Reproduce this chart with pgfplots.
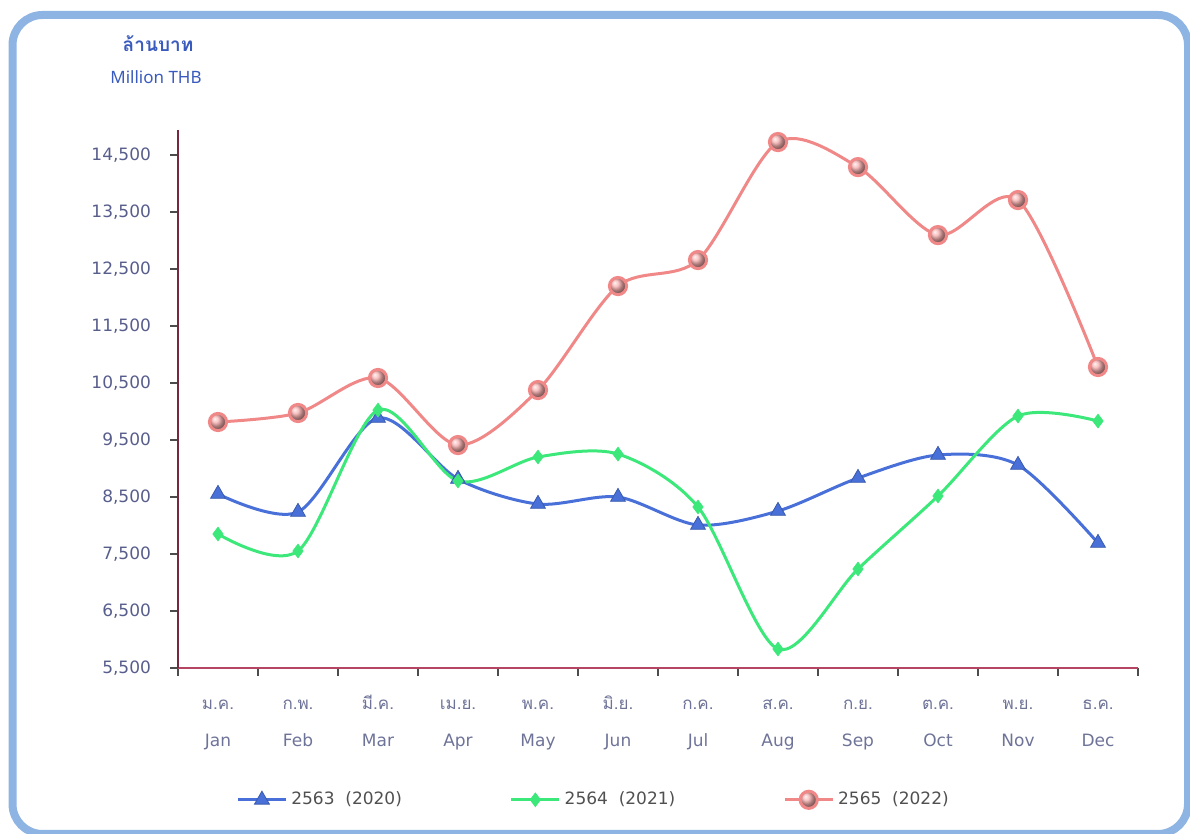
\documentclass[border=0pt]{standalone}
\usepackage{pgfplots}
\pgfplotsset{compat=1.18}
\usepackage{fontspec}
\setmainfont{DejaVu Sans}
\newfontfamily\thai[Script=Thai]{Loma}
\newfontfamily\notosans{Noto Sans}

\definecolor{framecol}{RGB}{141,180,227}
\definecolor{titleblue}{RGB}{58,91,190}
\definecolor{ytickcol}{RGB}{88,94,140}
\definecolor{xtickcol}{RGB}{110,115,152}
\definecolor{yaxcol}{RGB}{120,40,62}
\definecolor{xaxcol}{RGB}{180,70,100}
\definecolor{c2563}{RGB}{72,112,216}
\definecolor{c2564}{RGB}{60,232,122}
\definecolor{c2565}{RGB}{240,136,136}
\definecolor{ballcol}{RGB}{245,172,172}
\definecolor{legtext}{RGB}{80,80,80}

% two-line month label: Thai on top, English below, fixed line heights
\newcommand\ml[2]{\rule{0pt}{8pt}\smash{\thai #1}\\#2}

\begin{document}
\begin{tikzpicture}
\useasboundingbox (0pt,0pt) rectangle (595pt,417pt);
\draw[framecol, line width=4pt, rounded corners=15pt] (6.25pt,0pt) rectangle (594pt,409.5pt);

\node[text=titleblue, font=\thai\bfseries\fontsize{9.5}{11}\selectfont] at (79pt,395pt) {ล้านบาท};
\node[text=titleblue, font=\notosans\fontsize{8.5}{10}\selectfont] at (78pt,378.5pt) {Million THB};

\begin{axis}[
  at={(89pt,83pt)}, anchor=south west,
  scale only axis, width=480pt, height=269pt,
  xmin=-0.5, xmax=11.5, ymin=5500, ymax=14940,
  axis x line*=bottom, axis y line*=left,
  x axis line style={draw=xaxcol, line width=1pt},
  y axis line style={draw=yaxcol, line width=1pt},
  xtick={-0.5,0.5,...,11.5}, xticklabels={},
  ytick={5500,6500,...,14500},
  tick align=outside, major tick length=4pt,
  tick style={draw=black!70, line width=0.8pt},
  scaled y ticks=false,
  /pgf/number format/1000 sep={,},
  /pgf/number format/assume math mode=true,
  yticklabel style={font=\fontsize{8.5}{10}\selectfont, text=ytickcol, xshift=-6pt},
  xticklabel style={align=center, font=\fontsize{8.5}{18.5}\selectfont, text=xtickcol, yshift=-5pt},
  extra x ticks={0,...,11},
  extra x tick labels={\ml{ม.ค.}{Jan},\ml{ก.พ.}{Feb},\ml{มี.ค.}{Mar},\ml{เม.ย.}{Apr},\ml{พ.ค.}{May},\ml{มิ.ย.}{Jun},\ml{ก.ค.}{Jul},\ml{ส.ค.}{Aug},\ml{ก.ย.}{Sep},\ml{ต.ค.}{Oct},\ml{พ.ย.}{Nov},\ml{ธ.ค.}{Dec}},
  extra x tick style={tick style={draw=none}},
  legend columns=3,
  legend style={at={(0.434,-0.245)}, anchor=center, draw=none, fill=none,
    font=\fontsize{8.5}{10}\selectfont, text=legtext,
    /tikz/every even column/.append style={column sep=52pt}},
  legend image code/.code={\draw[mark repeat=2,mark phase=2] plot coordinates {(0cm,0cm) (0.42cm,0cm) (0.84cm,0cm)};},
  every axis plot/.append style={smooth, line width=1.5pt},
]
\addplot[color=c2563, mark=triangle*, mark size=4.3pt, mark options={fill=c2563, draw=c2563!80!black, line width=0.4pt}]
  coordinates {(0,8553) (1,8237) (2,9886) (3,8816) (4,8377) (5,8500) (6,8009) (7,8254) (8,8833) (9,9237) (10,9061) (11,7693)};
\addlegendentry{2563\ \ (2020)}
\addplot[color=c2564, mark=diamond*, mark size=3.4pt, mark options={fill=c2564, draw=c2564, line width=0.4pt}]
  coordinates {(0,7851) (1,7553) (2,10026) (3,8781) (4,9202) (5,9254) (6,8325) (7,5833) (8,7237) (9,8518) (10,9921) (11,9833)};
\addlegendentry{2564\ \ (2021)}
\addplot[color=c2565, mark=ball, mark size=4.3pt, mark options={ball color=ballcol}]
  coordinates {(0,9816) (1,9974) (2,10588) (3,9412) (4,10377) (5,12202) (6,12658) (7,14728) (8,14289) (9,13096) (10,13711) (11,10781)};
\addlegendentry{2565\ \ (2022)}
\end{axis}
\end{tikzpicture}
\end{document}
